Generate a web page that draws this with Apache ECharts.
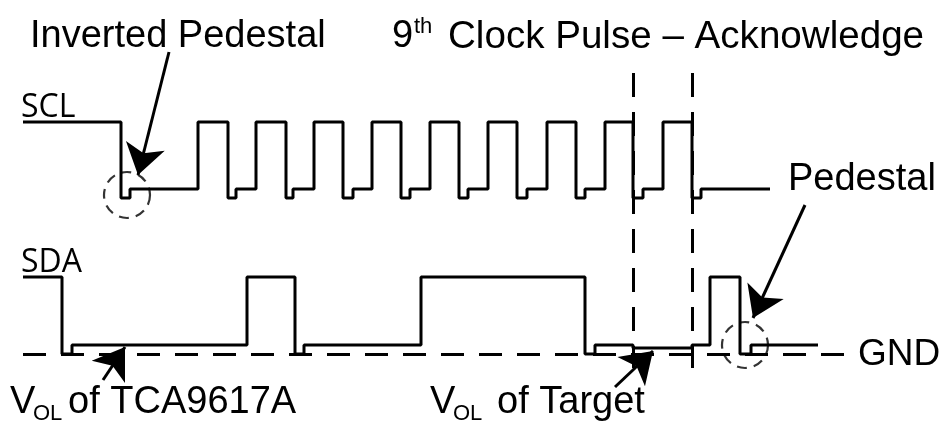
<!DOCTYPE html>
<html>
<head>
<meta charset="utf-8">
<script src="https://cdn.jsdelivr.net/npm/echarts@6/dist/echarts.min.js"></script>
<style>html,body{margin:0;padding:0;background:#fff;}#c{width:946px;height:422px;}</style>
</head>
<body>
<div id="c"></div>
<script>
// Signal levels (diagram units)
const SCL_LEVELS = { H: 122, L: 189, P: 198 };
const SDA_LEVELS = { H: 277, L: 345, T: 348, G: 354 };

// SCL transitions: time of edge and state entered
const sclEdges = [23,121,130,198,228,236,256,286,293,314,343,353,372,401,410,430,459,468,488,517,527,547,576,585,605,633,643,663,692,701,770];
const sclStates = ['H','P','L','H','P','L','H','P','L','H','P','L','H','P','L','H','P','L','H','P','L','H','P','L','H','P','L','H','P','L','L'];

// SDA transitions
const sdaEdges = [23,62,72,247,295,304,421,585,595,633,692,710,740,751,818];
const sdaStates = ['H','G','L','H','G','L','H','G','L','T','L','H','G','L','L'];

// Guides
const gndLine = [[23, 354], [850, 354]];
const ackLines = [[[633, 73], [633, 368]], [[692, 73], [692, 368]]];
const circles = [[127, 195], [745, 345]];
const arrows = [
  [[169, 52], [138, 175]],
  [[805, 205], [753, 318]],
  [[103, 380], [125, 347]],
  [[615, 387], [653, 351]]
];

const sclData = sclEdges.map((t, i) => [t, SCL_LEVELS[sclStates[i]]]);
const sdaData = sdaEdges.map((t, i) => [t, SDA_LEVELS[sdaStates[i]]]);

const chart = echarts.init(document.getElementById('c'), null, { renderer: 'canvas' });
const F = '"Liberation Sans", Arial, sans-serif';
const OS = '"Open Sans", sans-serif';
const big = 38;
// place text by its baseline
function txt(text, x, base, size, family, k) {
  const off = (k || 0.79) * size;
  return { type: 'text', x: x, y: base - off, silent: true,
    style: { text: text, font: size + 'px ' + (family || F), fill: '#000', textAlign: 'left', textVerticalAlign: 'top' } };
}
chart.setOption({
  animation: false,
  backgroundColor: '#fff',
  grid: { left: 0, right: 0, top: 0, bottom: 0 },
  xAxis: { type: 'value', min: 0, max: 946, show: false },
  yAxis: { type: 'value', min: 0, max: 422, inverse: true, show: false },
  series: [
    { type: 'line', data: sclData, step: 'end', symbol: 'none', lineStyle: { color: '#000', width: 3 }, z: 3 },
    { type: 'line', data: sdaData, step: 'end', symbol: 'none', lineStyle: { color: '#000', width: 3 }, z: 3 },
    { type: 'lines', coordinateSystem: 'cartesian2d',
      data: [{ coords: gndLine }], lineStyle: { color: '#000', width: 3, type: [23, 15], opacity: 1 }, z: 2 },
    { type: 'lines', coordinateSystem: 'cartesian2d',
      data: ackLines.map(c => ({ coords: c })), lineStyle: { color: '#000', width: 3, type: [24, 15], opacity: 1 }, z: 2 },
    { type: 'scatter', data: circles, symbol: 'circle', symbolSize: 46,
      itemStyle: { color: 'rgba(0,0,0,0)', borderColor: '#000', borderWidth: 2.2, borderType: [10, 7] }, z: 4 },
    { type: 'lines', coordinateSystem: 'cartesian2d',
      data: arrows.map(c => ({ coords: c })), symbol: ['none', 'arrow'], symbolSize: 30,
      lineStyle: { color: '#000', width: 3, opacity: 1 }, itemStyle: { color: '#000' }, z: 5 }
  ],
  graphic: [
    txt('Inverted Pedestal', 30, 48, big),
    txt('9', 392, 48, big),
    txt('th', 414, 33, 22),
    txt('Clock Pulse \u2013 Acknowledge', 448, 48, 38.6),
    txt('SCL', 21, 119, 32, OS, 0.86),
    txt('SDA', 21, 274, 32, OS, 0.86),
    txt('Pedestal', 788, 191, big),
    txt('GND', 858, 366, 37),
    txt('V', 10, 414, big),
    txt('OL', 33, 420, 22),
    txt('of TCA9617A', 68, 414, big),
    txt('V', 430, 414, big),
    txt('OL', 453, 420, 22),
    txt('of Target', 497, 414, big)
  ]
});
</script>
</body>
</html>
